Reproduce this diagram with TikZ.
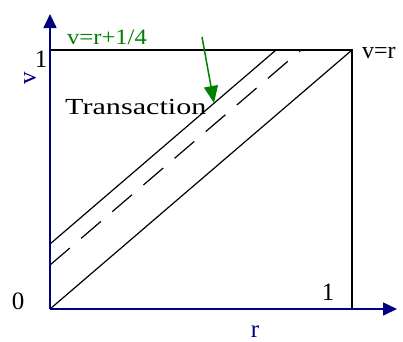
\documentclass[tikz,border=0pt]{standalone}
\usepackage{fontspec}
\setmainfont{Liberation Serif}
\usetikzlibrary{arrows.meta}
\definecolor{axisblue}{RGB}{0,0,128}
\definecolor{labgreen}{RGB}{0,128,0}
\tikzset{
  axis/.style={draw=axisblue,line width=1.6pt,-{Triangle[length=14pt,width=13pt]}},
  edge/.style={draw=black,line width=1.2pt},
  dash line/.style={draw=black,line width=1.2pt,dash pattern=on 26pt off 15pt},
  lab/.style={inner sep=0pt,font=\fontsize{22}{24}\selectfont},
  big/.style={inner sep=0pt,font=\fontsize{25}{27}\selectfont},
}
\begin{document}
\begin{tikzpicture}[x=1pt,y=-1pt]
\useasboundingbox (0,0) rectangle (403,341);
\coordinate (O) at (50,309);
\coordinate (A) at (352,309);
\coordinate (B) at (352,50);
\coordinate (C) at (50,50);
\coordinate (U0) at (50,244);
\coordinate (U1) at (276,50);
\coordinate (D0) at (50,265);
\coordinate (D1) at (301,50);
% square and lines
\draw[edge] (C) -- (B) -- (A);
\draw[edge] (O) -- (B);
\draw[edge] (U0) -- (U1);
\draw[dash line] (D0) -- (D1);
% axes
\coordinate (xend) at (397,309);
\coordinate (yend) at (50,14);
\draw[axis] (O) -- (xend);
\draw[axis] (O) -- (yend);
% labels
\node[lab,text=labgreen] (lg) at (107,37) {\scalebox{1.12}[1]{v=r+1/4}};
\node[big] (one) at (41,59) {1};
\node[big,text=axisblue,rotate=90] (vl) at (30,78) {v};
\node[lab,anchor=base west,font=\fontsize{23}{25}\selectfont] (tr) at (65,114) {\scalebox{1.31}[1]{Transaction}};
\node[lab,anchor=base west,font=\fontsize{24}{26}\selectfont] (vr) at (362,58) {v=r};
\node[big] (zero) at (18,301) {0};
\node[big] (oner) at (328,292) {1};
\node[big,text=axisblue,anchor=base] (rl) at (255,337) {r};
% green arrow
\coordinate (gs) at (202,37);
\coordinate (ge) at (214,103);
\draw[labgreen,line width=1.5pt,-{Triangle[length=17pt,width=14pt]}] (gs) -- (ge);
\end{tikzpicture}
\end{document}
